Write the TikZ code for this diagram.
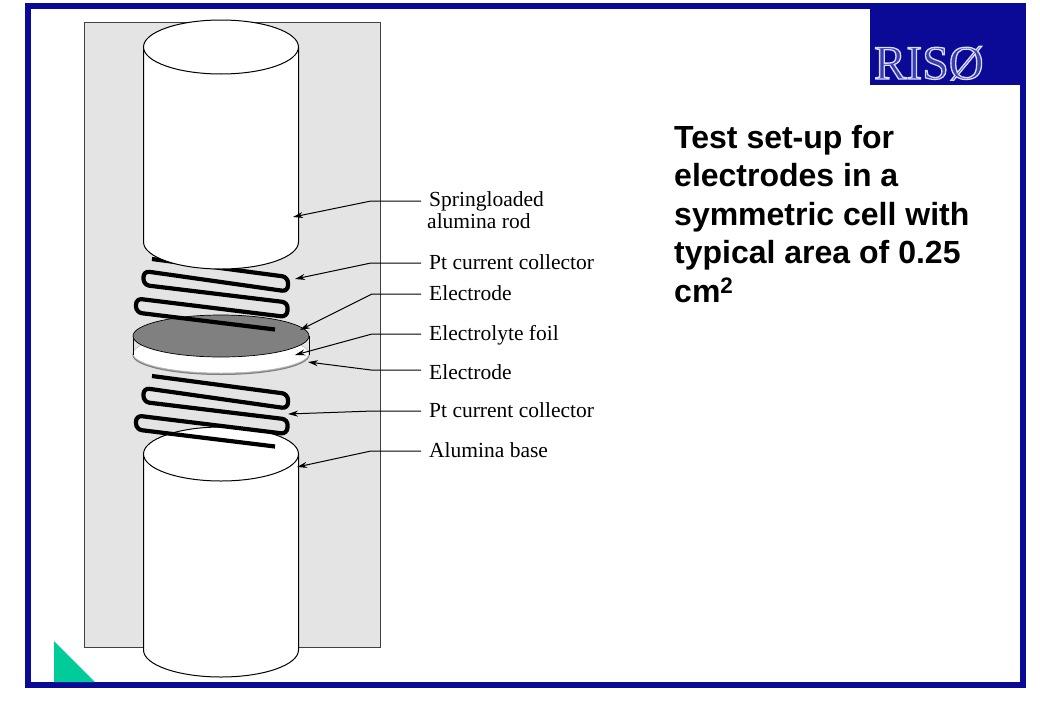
\documentclass[tikz,border=0pt]{standalone}
\usepackage{fontspec}
\setmainfont{Liberation Serif}
\newfontfamily\headfont{Liberation Sans}
\usetikzlibrary{arrows.meta}
\definecolor{risoblue}{HTML}{0A0A96}
\definecolor{risogreen}{HTML}{00CC99}
\definecolor{holder}{HTML}{E4E4E4}
\definecolor{elgray}{HTML}{808080}

\begin{document}
\begin{tikzpicture}[x=1pt, y=-1pt]
	\tikzset{
		rodface/.style={draw=black, fill=white, line width=1pt},
		coil/.style={draw=black, line width=4.2pt, rounded corners=6pt},
		lbl/.style={anchor=west, inner xsep=8pt, inner ysep=0pt, font=\fontsize{21.5}{24}\selectfont, text height=16pt, text depth=4pt},
		lead/.style={draw=black, line width=1pt, -{Stealth[length=10pt, width=6pt]}}
	};

	\useasboundingbox (0, 0) rectangle (1040, 720);
	\fill[white] (0, 0) rectangle (1040, 720);

	% frame and logo
	\draw[risoblue, line width=6pt] (28, 6) rectangle (1023, 685);
	\fill[risoblue] (870, 3) rectangle (1026, 85);
	\fill[risogreen] (54, 641) -- (95, 682) -- (54, 682) -- cycle;
	\node[anchor=base west, inner sep=0pt, text=risoblue!80!white, font=\fontsize{48}{48}\selectfont] (logo) at (874, 79)
		{\special{pdf:code q 2 Tr 1.3 w 0.85 0.87 1 RG}RIS\O\special{pdf:code 0 Tr Q}};

	% holder
	\draw[fill=holder, draw=black!75, line width=1pt] (84, 22) rectangle (380, 647);

	% electrolyte disc
	\draw[fill=elgray!70, draw=elgray, line width=1pt] (221, 355) ellipse (88 and 19.5);
	\draw[fill=white, draw=elgray!60, line width=0.5pt] (221, 353.5) ellipse (88 and 19.5);
	\draw[line width=0.7pt] (133, 336) -- (133, 355);
	\draw[line width=0.7pt] (309, 336) -- (309, 355);
	\draw[fill=elgray, draw=black, line width=0.7pt] (221, 336) ellipse (88 and 21);

	% upper coil, rod in front of it
	\draw[coil] (152, 259) -- (288, 277) -- (288, 291.5) -- (143.5, 271) -- (143.5, 285) -- (288, 302.5) -- (287, 317) -- (136, 298.5) -- (136, 312.5) -- (275, 329.5);
	\draw[rodface] (143.5, 47) -- (143.5, 242) arc (180:0:77.5 and 27) -- (298.5, 47);
	\draw[rodface] (221, 47) ellipse (77.5 and 27);

	% base, coil in front of it
	\draw[rodface] (143.5, 454) -- (143.5, 650) arc (180:0:77.5 and 27) -- (298.5, 454);
	\draw[rodface] (221, 454) ellipse (77.5 and 27);
	\draw[coil] (152, 376) -- (288, 394) -- (288, 408.5) -- (143.5, 388) -- (143.5, 402) -- (288, 419.5) -- (287, 434) -- (136, 415.5) -- (136, 429.5) -- (275, 446.5);

	% labels
	\node[lbl, text height=, text depth=, align=left, anchor=north west, font=\fontsize{21.5}{22.5}\selectfont] (rod) at (421, 191) {Springloaded\\\hspace{-2pt}alumina rod};
	\node[lbl] (pt1) at (421, 263) {Pt current collector};
	\node[lbl] (el1) at (421, 294) {Electrode};
	\node[lbl] (foil) at (421, 334) {Electrolyte foil};
	\node[lbl] (el2) at (421, 373) {Electrode};
	\node[lbl] (pt2) at (421, 411) {Pt current collector};
	\node[lbl] (base) at (421, 451) {Alumina base};

	\coordinate (rodtip) at (293, 217);
	\coordinate (pt1tip) at (295, 279);
	\coordinate (el1tip) at (300, 330);
	\coordinate (foiltip) at (295, 355);
	\coordinate (el2tip) at (308, 362);
	\coordinate (pt2tip) at (288, 414);
	\coordinate (basetip) at (297, 467);

	\draw[lead] ([yshift=-10pt]rod.north west) -- (371, 201) -- (rodtip);
	\draw[lead] (pt1.west) -- (371, 263) -- (pt1tip);
	\draw[lead] (el1.west) -- (372, 294) -- (el1tip);
	\draw[lead] (foil.west) -- (372, 334) -- (foiltip);
	\draw[lead] ([yshift=3pt]el2.west) -- (371, 370) -- (el2tip);
	\draw[lead] (pt2.west) -- (373, 411) -- (pt2tip);
	\draw[lead] (base.west) -- (371, 451) -- (basetip);

	% heading
	\node[anchor=north west, inner sep=0pt, align=left, font=\headfont\bfseries\fontsize{32}{38.5}\selectfont] (title) at (674, 125)
		{Test set-up for\\electrodes in a\\symmetric cell with\\typical area of 0.25\\cm\textsuperscript{2}};
\end{tikzpicture}
\end{document}
